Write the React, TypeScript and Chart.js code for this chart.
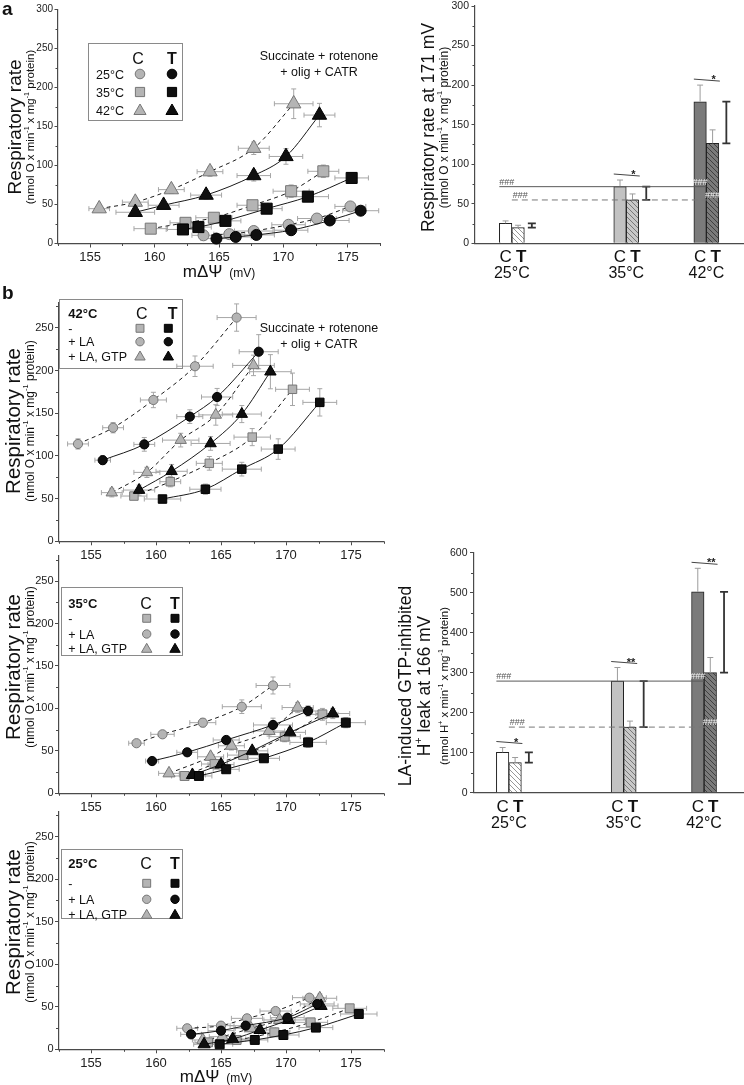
import React, { useEffect, useRef } from 'react';
import { Chart, registerables } from 'chart.js';

Chart.register(...registerables);

const FONT = '"Liberation Sans", Arial, Helvetica, sans-serif';
const PAGE_W = 744;
const PAGE_H = 1085;
const AXIS = '#4a4a4a';
const GRAY = '#b4b4b4';
const GRAY_EDGE = '#767676';
const BLACK = '#0f0f0f';
const INK = '#111111';

// ---------- panel a (left): respiratory rate vs mΔΨ ----------
const a25C_x = [163.8, 165.8, 167.7, 170.4, 172.6, 175.2];
const a25C_y = [10.5, 12, 16, 24, 32, 47.5];
const a25C_ex = [0.9, 1.2, 1.5, 1.3, 1.5, 1.2];
const a25C_ey = [3, 3, 3, 3, 4, 4];
const a25T_x = [164.8, 166.3, 167.9, 170.6, 173.6, 176.0];
const a25T_y = [6.3, 8.4, 11, 17, 29.5, 42];
const a25T_ex = [1.2, 1.2, 1.4, 1.3, 1.5, 1.4];
const a25T_ey = [2, 2, 2, 3, 3, 4];
const a35C_x = [159.7, 162.4, 164.6, 167.6, 170.6, 173.1];
const a35C_y = [19, 26.5, 33, 49, 67, 92.5];
const a35C_ex = [1.3, 1.2, 1.4, 1.2, 1.4, 1.2];
const a35C_ey = [3, 3, 4, 5, 8, 8];
const a35T_x = [162.2, 163.4, 165.5, 168.7, 171.9, 175.3];
const a35T_y = [18, 21, 29, 44.6, 60, 84];
const a35T_ex = [1.3, 1.0, 1.2, 1.2, 1.6, 1.3];
const a35T_ey = [3, 3, 3, 4, 6, 6];
const a42C_x = [155.7, 158.5, 161.3, 164.3, 167.7, 170.8];
const a42C_y = [44.6, 53, 69, 92, 122, 179];
const a42C_ex = [0.8, 1.0, 1.0, 1.0, 1.2, 1.5];
const a42C_ey = [4, 5, 5, 6, 8, 19];
const a42T_x = [158.5, 160.7, 164.0, 167.7, 170.2, 172.8];
const a42T_y = [40, 49, 62, 87, 111.5, 164.5];
const a42T_ex = [1.5, 1.2, 1.2, 1.3, 1.3, 1.2];
const a42T_ey = [4, 4, 5, 7, 10, 15];

// ---------- panel b, 42 °C ----------
const b42C_x = [158.3, 161.1, 164.1, 167.4, 170.5];
const b42C_y = [53, 69.8, 91.3, 122, 178];
const b42C_ex = [1.0, 0.8, 1.0, 1.4, 1.3];
const b42C_ey = [4, 6, 8, 10, 19];
const b42T_x = [160.5, 163.8, 166.6, 169.4, 172.6];
const b42T_y = [49.5, 61, 84.5, 108, 162.7];
const b42T_ex = [1.4, 1.2, 1.5, 1.3, 1.3];
const b42T_ey = [4, 6, 8, 12, 16];
const b42LAC_x = [154.0, 156.7, 159.8, 163.0, 166.2];
const b42LAC_y = [114, 133, 165.5, 205, 262];
const b42LAC_ex = [0.8, 0.8, 1.0, 1.4, 1.5];
const b42LAC_ey = [6, 6, 9, 12, 16];
const b42LAT_x = [155.9, 159.1, 162.6, 164.7, 167.9];
const b42LAT_y = [95, 113.5, 146, 169, 222];
const b42LAT_ex = [0.6, 0.8, 1.0, 1.2, 1.5];
const b42LAT_ey = [5, 8, 8, 10, 20];
const b42GC_x = [156.6, 159.3, 161.9, 164.6, 167.5];
const b42GC_y = [57, 80.7, 118.5, 148, 206];
const b42GC_ex = [0.8, 1.0, 1.4, 1.3, 1.6];
const b42GC_ey = [5, 6, 8, 12, 12];
const b42GT_x = [158.7, 161.2, 164.2, 166.6, 168.8];
const b42GT_y = [60, 82, 114.6, 149, 198.6];
const b42GT_ex = [1.2, 1.2, 1.5, 1.5, 1.6];
const b42GT_ey = [6, 8, 8, 10, 20];

// ---------- panel b, 35 °C ----------
const b35C_x = [162.2, 164.5, 166.7, 169.9, 172.8];
const b35C_y = [20.4, 34.5, 45, 66.7, 93];
const b35C_ex = [1.0, 1.0, 1.2, 1.2, 1.2];
const b35C_ey = [3, 4, 4, 6, 7];
const b35T_x = [163.3, 165.4, 168.3, 171.7, 174.6];
const b35T_y = [20.4, 28.3, 41.2, 60, 83.2];
const b35T_ex = [1.0, 1.0, 1.2, 1.4, 1.5];
const b35T_ey = [3, 3, 4, 6, 6];
const b35LAC_x = [158.5, 160.5, 163.6, 166.6, 169.0];
const b35LAC_y = [59, 69.5, 83.2, 102, 127];
const b35LAC_ex = [0.6, 0.9, 1.0, 1.5, 1.3];
const b35LAC_ey = [3, 4, 5, 8, 10];
const b35LAT_x = [159.7, 162.4, 165.4, 169.0, 171.7];
const b35LAT_y = [38, 48.3, 62.8, 80.5, 97];
const b35LAT_ex = [0.5, 0.8, 1.0, 1.5, 1.2];
const b35LAT_ey = [3, 4, 4, 8, 6];
const b35GC_x = [161.0, 164.2, 165.8, 168.7, 170.9];
const b35GC_y = [23.5, 43, 56, 73.4, 101];
const b35GC_ex = [0.8, 1.0, 1.0, 1.2, 1.2];
const b35GC_ey = [3, 4, 5, 6, 6];
const b35GT_x = [162.8, 165.0, 167.4, 170.3, 173.6];
const b35GT_y = [21.6, 34, 50, 71.8, 94];
const b35GT_ex = [1.0, 1.0, 1.2, 1.2, 1.3];
const b35GT_ey = [3, 3, 4, 5, 6];

// ---------- panel b, 25 °C ----------
const b25C_x = [164.0, 166.2, 169.1, 171.9, 174.9];
const b25C_y = [8.2, 11, 20, 31.7, 48.2];
const b25C_ex = [1.0, 1.0, 1.2, 1.3, 1.3];
const b25C_ey = [2, 2, 3, 3, 4];
const b25T_x = [164.9, 167.6, 169.8, 172.3, 175.6];
const b25T_y = [5.9, 11, 16.8, 25.5, 41.5];
const b25T_ex = [1.0, 1.0, 1.2, 1.3, 1.4];
const b25T_ey = [2, 2, 3, 3, 4];
const b25LAC_x = [162.4, 165.0, 167.0, 169.2, 171.8];
const b25LAC_y = [24.7, 27.8, 36.4, 45, 60.7];
const b25LAC_ex = [0.8, 1.0, 1.2, 1.2, 1.3];
const b25LAC_ey = [2, 3, 3, 4, 4];
const b25LAT_x = [162.7, 165.0, 166.9, 170.1, 172.4];
const b25LAT_y = [17.6, 21.9, 27.8, 37.2, 53.3];
const b25LAT_ex = [0.8, 1.0, 1.2, 1.3, 1.3];
const b25LAT_ey = [2, 2, 3, 3, 4];
const b25GC_x = [163.6, 165.1, 167.3, 169.5, 172.6];
const b25GC_y = [11, 14.9, 24.7, 34.5, 60];
const b25GC_ex = [0.8, 1.0, 1.2, 1.2, 1.3];
const b25GC_ey = [2, 2, 3, 3, 5];
const b25GT_x = [163.7, 165.9, 168.0, 170.2, 172.7];
const b25GT_y = [5.9, 12.1, 22.7, 34.5, 51];
const b25GT_ex = [0.8, 1.0, 1.2, 1.3, 1.3];
const b25GT_ey = [2, 2, 3, 3, 4];

// ---------- bar charts ----------
const barTemps = [25, 35, 42];
const barTempLabels = ['25°C', '35°C', '42°C'];
const aBarC = [25.3, 71.6, 179];
const aBarCErr = [3, 8.4, 21];
const aBarT = [19.8, 54.8, 126.4];
const aBarTErr = [3, 7.6, 17];
const aBarSig = ['', '*', '*'];
const bBarC = [101, 279, 502];
const bBarCErr = [12, 34, 59];
const bBarT = [75, 164, 300];
const bBarTErr = [13, 15, 38];
const bBarSig = ['*', '**', '**'];

// ---------- ticks & labels ----------
const xTicks = [155, 160, 165, 170, 175];
const aYTicks = [0, 50, 100, 150, 200, 250, 300];
const bYTicks = [0, 50, 100, 150, 200, 250];
const bBarYTicks = [0, 100, 200, 300, 400, 500, 600];
const aLegendLabels = ['25°C', '35°C', '42°C'];
const bLegendLabels = ['-', '+ LA', '+ LA, GTP'];

type Shape = 'circle' | 'rect' | 'triangle';
type Series = { x: number[]; y: number[]; ex: number[]; ey: number[]; shape: Shape; grp: 'C' | 'T' };
type Rect = { l: number; t: number; r: number; b: number };
type Seg = { t: string; size: number; bold?: boolean; sup?: boolean };

const ser = (x: number[], y: number[], ex: number[], ey: number[], shape: Shape, grp: 'C' | 'T'): Series => ({ x, y, ex, ey, shape, grp });

const seriesA: Series[] = [
  ser(a25T_x, a25T_y, a25T_ex, a25T_ey, 'circle', 'T'),
  ser(a35T_x, a35T_y, a35T_ex, a35T_ey, 'rect', 'T'),
  ser(a42T_x, a42T_y, a42T_ex, a42T_ey, 'triangle', 'T'),
  ser(a25C_x, a25C_y, a25C_ex, a25C_ey, 'circle', 'C'),
  ser(a35C_x, a35C_y, a35C_ex, a35C_ey, 'rect', 'C'),
  ser(a42C_x, a42C_y, a42C_ex, a42C_ey, 'triangle', 'C'),
];
const seriesB42: Series[] = [
  ser(b42T_x, b42T_y, b42T_ex, b42T_ey, 'rect', 'T'),
  ser(b42LAT_x, b42LAT_y, b42LAT_ex, b42LAT_ey, 'circle', 'T'),
  ser(b42GT_x, b42GT_y, b42GT_ex, b42GT_ey, 'triangle', 'T'),
  ser(b42C_x, b42C_y, b42C_ex, b42C_ey, 'rect', 'C'),
  ser(b42LAC_x, b42LAC_y, b42LAC_ex, b42LAC_ey, 'circle', 'C'),
  ser(b42GC_x, b42GC_y, b42GC_ex, b42GC_ey, 'triangle', 'C'),
];
const seriesB35: Series[] = [
  ser(b35T_x, b35T_y, b35T_ex, b35T_ey, 'rect', 'T'),
  ser(b35LAT_x, b35LAT_y, b35LAT_ex, b35LAT_ey, 'circle', 'T'),
  ser(b35GT_x, b35GT_y, b35GT_ex, b35GT_ey, 'triangle', 'T'),
  ser(b35C_x, b35C_y, b35C_ex, b35C_ey, 'rect', 'C'),
  ser(b35LAC_x, b35LAC_y, b35LAC_ex, b35LAC_ey, 'circle', 'C'),
  ser(b35GC_x, b35GC_y, b35GC_ex, b35GC_ey, 'triangle', 'C'),
];
const seriesB25: Series[] = [
  ser(b25T_x, b25T_y, b25T_ex, b25T_ey, 'rect', 'T'),
  ser(b25LAT_x, b25LAT_y, b25LAT_ex, b25LAT_ey, 'circle', 'T'),
  ser(b25GT_x, b25GT_y, b25GT_ex, b25GT_ey, 'triangle', 'T'),
  ser(b25C_x, b25C_y, b25C_ex, b25C_ey, 'rect', 'C'),
  ser(b25LAC_x, b25LAC_y, b25LAC_ex, b25LAC_ey, 'circle', 'C'),
  ser(b25GC_x, b25GC_y, b25GC_ex, b25GC_ey, 'triangle', 'C'),
];

// ---------- drawing helpers ----------
const fontStr = (size: number, bold?: boolean) => `${bold ? 'bold ' : ''}${size}px ${FONT}`;
const T = (t: string, size: number, bold = false): Seg => ({ t, size, bold });
const S = (t: string, size: number): Seg => ({ t, size, sup: true });

function drawRich(ctx: CanvasRenderingContext2D, segs: Seg[], x: number, y: number, align: 'left' | 'center' | 'right' = 'left', rot = 0, color = INK) {
  ctx.save();
  ctx.translate(x, y);
  if (rot) ctx.rotate(rot);
  ctx.fillStyle = color;
  ctx.textBaseline = 'alphabetic';
  ctx.textAlign = 'left';
  const widths = segs.map((s) => {
    ctx.font = fontStr(s.sup ? s.size * 0.62 : s.size, s.bold);
    return ctx.measureText(s.t).width;
  });
  const total = widths.reduce((a, b) => a + b, 0);
  let cx = align === 'center' ? -total / 2 : align === 'right' ? -total : 0;
  segs.forEach((s, i) => {
    ctx.font = fontStr(s.sup ? s.size * 0.62 : s.size, s.bold);
    ctx.fillText(s.t, cx, s.sup ? -s.size * 0.42 : 0);
    cx += widths[i];
  });
  ctx.restore();
}

const subO = (size: number): Seg[] => [T('(nmol O x min', size), S('-1', size), T(' x mg', size), S('-1', size), T(' protein)', size)];
const subH = (size: number): Seg[] => [T('(nmol H', size), S('+', size), T(' x min', size), S('-1', size), T(' x mg', size), S('-1', size), T(' protein)', size)];

function drawMarker(ctx: CanvasRenderingContext2D, shape: Shape, x: number, y: number, r: number, grp: 'C' | 'T') {
  ctx.save();
  ctx.fillStyle = grp === 'C' ? GRAY : BLACK;
  ctx.strokeStyle = grp === 'C' ? GRAY_EDGE : '#000';
  ctx.lineWidth = 1;
  ctx.beginPath();
  if (shape === 'circle') ctx.arc(x, y, r, 0, Math.PI * 2);
  else if (shape === 'rect') {
    const s = r * Math.SQRT1_2;
    ctx.rect(x - s, y - s, 2 * s, 2 * s);
  } else {
    for (let k = 0; k < 3; k++) {
      const a = (k * 2 * Math.PI) / 3;
      const px = x + Math.sin(a) * r;
      const py = y - Math.cos(a) * r;
      if (k) ctx.lineTo(px, py);
      else ctx.moveTo(px, py);
    }
    ctx.closePath();
  }
  ctx.fill();
  ctx.stroke();
  ctx.restore();
}

function halfSteps(ticks: number[], min: number, max: number) {
  const step = ticks[1] - ticks[0];
  const out: number[] = [];
  for (let v = ticks[0] - step / 2; v <= max + 1e-9; v += step) if (v >= min - 1e-9) out.push(v);
  return out;
}

function minorTicks(c: any, xMinor: number[], yMinor: number[]) {
  const ctx = c.ctx as CanvasRenderingContext2D;
  const a = c.chartArea;
  ctx.save();
  ctx.strokeStyle = AXIS;
  ctx.lineWidth = 1;
  ctx.beginPath();
  xMinor.forEach((v) => {
    const p = Math.round(c.scales.x.getPixelForValue(v)) + 0.5;
    ctx.moveTo(p, a.bottom);
    ctx.lineTo(p, a.bottom + 2.5);
  });
  yMinor.forEach((v) => {
    const p = Math.round(c.scales.y.getPixelForValue(v)) + 0.5;
    ctx.moveTo(a.left, p);
    ctx.lineTo(a.left - 2.5, p);
  });
  ctx.stroke();
  ctx.restore();
}

function strokeRect(ctx: CanvasRenderingContext2D, r: Rect) {
  ctx.save();
  ctx.strokeStyle = '#8a8a8a';
  ctx.lineWidth = 1;
  ctx.strokeRect(Math.round(r.l) + 0.5, Math.round(r.t) + 0.5, Math.round(r.r - r.l), Math.round(r.b - r.t));
  ctx.restore();
}

const errorBarPlugin = {
  id: 'errbars',
  beforeDatasetsDraw(c: any) {
    const ctx = c.ctx as CanvasRenderingContext2D;
    const xs = c.scales.x;
    const ys = c.scales.y;
    ctx.save();
    ctx.strokeStyle = '#a6a6a6';
    ctx.lineWidth = 1;
    c.data.datasets.forEach((ds: any) => {
      if (!ds.errX) return;
      ds.data.forEach((pt: any, i: number) => {
        const px = xs.getPixelForValue(pt.x);
        const py = ys.getPixelForValue(pt.y);
        const x1 = xs.getPixelForValue(pt.x - ds.errX[i]);
        const x2 = xs.getPixelForValue(pt.x + ds.errX[i]);
        const y1 = ys.getPixelForValue(pt.y - ds.errY[i]);
        const y2 = ys.getPixelForValue(pt.y + ds.errY[i]);
        ctx.beginPath();
        ctx.moveTo(x1, py); ctx.lineTo(x2, py);
        ctx.moveTo(x1, py - 2.5); ctx.lineTo(x1, py + 2.5);
        ctx.moveTo(x2, py - 2.5); ctx.lineTo(x2, py + 2.5);
        ctx.moveTo(px, y1); ctx.lineTo(px, y2);
        ctx.moveTo(px - 2.5, y1); ctx.lineTo(px + 2.5, y1);
        ctx.moveTo(px - 2.5, y2); ctx.lineTo(px + 2.5, y2);
        ctx.stroke();
      });
    });
    ctx.restore();
  },
};

function yAxis(min: number, max: number, ticks: number[], width: number, fontSize: number, pad: number) {
  return {
    type: 'linear',
    min,
    max,
    afterBuildTicks: (s: any) => { s.ticks = ticks.map((v) => ({ value: v })); },
    afterFit: (s: any) => { s.width = width; s.paddingTop = 0; s.paddingBottom = 0; },
    ticks: { font: { family: FONT, size: fontSize }, color: '#222', padding: pad },
    grid: { display: true, drawOnChartArea: false, drawTicks: true, tickLength: 3.5, color: AXIS, lineWidth: 1 },
    border: { display: true, color: AXIS, width: 1.2 },
  };
}

function xAxisLin(min: number, max: number, ticks: number[], height: number) {
  return {
    type: 'linear',
    min,
    max,
    afterBuildTicks: (s: any) => { s.ticks = ticks.map((v) => ({ value: v })); },
    afterFit: (s: any) => { s.height = height; s.paddingLeft = 0; s.paddingRight = 0; },
    ticks: { font: { family: FONT, size: 13 }, color: '#222', padding: 2, maxRotation: 0, autoSkip: false },
    grid: { display: true, drawOnChartArea: false, drawTicks: true, tickLength: 4, color: AXIS, lineWidth: 1 },
    border: { display: true, color: AXIS, width: 1.2 },
  };
}

const X_MIN = 152.5;
const X_MAX = 177.5;

function scatterConfig(o: { series: Series[]; rect: Rect; ymax: number; yTicks: number[]; yFont: number; yPad: number; radii: Record<Shape, number>; decor: (c: any) => void }) {
  const Wy = 45;
  const Hx = 22;
  return {
    type: 'scatter',
    data: {
      datasets: o.series.map((s) => ({
        data: s.x.map((v, i) => ({ x: v, y: s.y[i] })),
        showLine: true,
        cubicInterpolationMode: 'monotone',
        borderColor: '#1a1a1a',
        borderWidth: 1,
        borderDash: s.grp === 'C' ? [4, 3.5] : [],
        pointStyle: s.shape,
        pointRadius: o.radii[s.shape],
        pointBorderWidth: 1,
        pointBackgroundColor: s.grp === 'C' ? GRAY : BLACK,
        pointBorderColor: s.grp === 'C' ? GRAY_EDGE : '#000',
        clip: false,
        errX: s.ex,
        errY: s.ey,
      })),
    },
    options: {
      responsive: false,
      animation: false,
      devicePixelRatio: 1,
      events: [],
      layout: { padding: { left: o.rect.l - Wy, top: o.rect.t, right: PAGE_W - o.rect.r, bottom: PAGE_H - o.rect.b - Hx } },
      plugins: { legend: { display: false }, tooltip: { enabled: false } },
      scales: {
        x: xAxisLin(X_MIN, X_MAX, xTicks, Hx),
        y: yAxis(0, o.ymax, o.yTicks, Wy, o.yFont, o.yPad),
      },
    },
    plugins: [errorBarPlugin, { id: 'decor', afterDraw: (c: any) => o.decor(c) }],
  };
}

// ---------- scatter decorations ----------
function decorA(c: any) {
  const ctx = c.ctx as CanvasRenderingContext2D;
  minorTicks(c, halfSteps(xTicks, X_MIN, X_MAX), halfSteps(aYTicks, 0, 300));
  drawRich(ctx, [T('a', 19, true)], 2, 15);
  drawRich(ctx, [T('Respiratory rate', 19)], 21, 127, 'center', -Math.PI / 2);
  drawRich(ctx, subO(11.5), 33.5, 127, 'center', -Math.PI / 2);
  drawRich(ctx, [T('mΔΨ', 17), T('  (mV)', 12)], 219, 277, 'center');
  drawRich(ctx, [T('Succinate + rotenone', 12.5)], 319, 59.5, 'center');
  drawRich(ctx, [T('+ olig + CATR', 12.5)], 319, 75.5, 'center');
  strokeRect(ctx, { l: 88, t: 43, r: 182, b: 120 });
  drawRich(ctx, [T('C', 16)], 138, 64, 'center');
  drawRich(ctx, [T('T', 16, true)], 172, 64, 'center');
  const shapes: Shape[] = ['circle', 'rect', 'triangle'];
  const rowY = [74, 92, 110];
  const rad: Record<Shape, number> = { circle: 4.8, rect: 6.5, triangle: 7 };
  aLegendLabels.forEach((lab, i) => {
    drawRich(ctx, [T(lab, 12.5)], 96, rowY[i] + 4.5);
    drawMarker(ctx, shapes[i], 140, rowY[i] + (shapes[i] === 'triangle' ? 1 : 0), rad[shapes[i]], 'C');
    drawMarker(ctx, shapes[i], 172, rowY[i] + (shapes[i] === 'triangle' ? 1 : 0), rad[shapes[i]], 'T');
  });
}

function decorB(o: { letter?: boolean; temp: string; titleY: number; box: Rect; headY: number; rowsY: number[]; mcX: number; mtX: number; hcX: number; htX: number; succ?: number[]; xTitle?: boolean }) {
  return (c: any) => {
    const ctx = c.ctx as CanvasRenderingContext2D;
    minorTicks(c, halfSteps(xTicks, X_MIN, X_MAX), halfSteps(bYTicks, 0, 280));
    if (o.letter) drawRich(ctx, [T('b', 19, true)], 2, 299);
    drawRich(ctx, [T('Respiratory rate', 20.5)], 19.5, o.titleY, 'center', -Math.PI / 2);
    drawRich(ctx, subO(12), 33.5, o.titleY, 'center', -Math.PI / 2);
    if (o.xTitle) drawRich(ctx, [T('mΔΨ', 17), T('  (mV)', 12)], 216, 1082, 'center');
    if (o.succ) {
      drawRich(ctx, [T('Succinate + rotenone', 12.5)], 319, o.succ[0], 'center');
      drawRich(ctx, [T('+ olig + CATR', 12.5)], 319, o.succ[1], 'center');
    }
    strokeRect(ctx, o.box);
    drawRich(ctx, [T(o.temp, 13, true)], 68.3, o.headY + 4.7);
    drawRich(ctx, [T('C', 16)], o.hcX, o.headY + 5.8, 'center');
    drawRich(ctx, [T('T', 16, true)], o.htX, o.headY + 5.8, 'center');
    const shapes: Shape[] = ['rect', 'circle', 'triangle'];
    const rad: Record<Shape, number> = { circle: 4.2, rect: 5.6, triangle: 6 };
    bLegendLabels.forEach((lab, i) => {
      drawRich(ctx, [T(lab, 12.5)], 68.3, o.rowsY[i] + 4.5);
      const dy = shapes[i] === 'triangle' ? 1 : 0;
      drawMarker(ctx, shapes[i], o.mcX, o.rowsY[i] + dy, rad[shapes[i]], 'C');
      drawMarker(ctx, shapes[i], o.mtX, o.rowsY[i] + dy, rad[shapes[i]], 'T');
    });
  };
}

// ---------- bar charts ----------
function hatch(bg: string, fg: string) {
  const s = 5;
  const t = document.createElement('canvas');
  t.width = s;
  t.height = s;
  const g = t.getContext('2d')!;
  g.fillStyle = bg;
  g.fillRect(0, 0, s, s);
  g.strokeStyle = fg;
  g.lineWidth = 0.9;
  g.beginPath();
  g.moveTo(-1, -1); g.lineTo(s + 1, s + 1);
  g.moveTo(s - 1, -1); g.lineTo(s + 1, 1);
  g.moveTo(-1, s - 1); g.lineTo(1, s + 1);
  g.stroke();
  return g.createPattern(t, 'repeat');
}

const barFillC = ['#ffffff', '#c2c2c2', '#7b7b7b'];

function barConfig(o: { c: number[]; cErr: number[]; t: number[]; tErr: number[]; sig: string[]; rect: Rect; xmin: number; xmax: number; ymax: number; yTicks: number[]; titles: (ctx: CanvasRenderingContext2D) => void }) {
  const Wy = 45;
  const fillT = [hatch('#ffffff', '#8c8c8c'), hatch('#c8c8c8', '#6e6e6e'), hatch('#7b7b7b', '#3a3a3a')];
  const decor = (c: any) => {
    const ctx = c.ctx as CanvasRenderingContext2D;
    const xs = c.scales.x;
    const ys = c.scales.y;
    const area = c.chartArea;
    const py = (v: number) => ys.getPixelForValue(v);
    const mc = c.getDatasetMeta(0).data as any[];
    const mt = c.getDatasetMeta(1).data as any[];
    const left = (e: any) => e.x - e.width / 2;
    const right = (e: any) => e.x + e.width / 2;
    minorTicks(c, [], halfSteps(o.yTicks, 0, o.ymax));
    ctx.save();
    // error bars (upper)
    ctx.strokeStyle = '#9c9c9c';
    ctx.lineWidth = 1;
    const errSets: [any[], number[], number[]][] = [[mc, o.c, o.cErr], [mt, o.t, o.tErr]];
    errSets.forEach(([m, v, e]) => {
      m.forEach((el, i) => {
        const y0 = py(v[i]);
        const y1 = py(v[i] + e[i]);
        ctx.beginPath();
        ctx.moveTo(el.x, y0); ctx.lineTo(el.x, y1);
        ctx.moveTo(el.x - 3, y1); ctx.lineTo(el.x + 3, y1);
        ctx.stroke();
      });
    });
    // C-T difference brackets
    ctx.strokeStyle = '#333';
    ctx.lineWidth = 1.8;
    barTemps.forEach((t, i) => {
      const x = xs.getPixelForValue(t) + 20;
      const y1 = py(o.c[i]);
      const y2 = py(o.t[i]);
      ctx.beginPath();
      ctx.moveTo(x, y1); ctx.lineTo(x, y2);
      ctx.moveTo(x - 4, y1); ctx.lineTo(x + 4, y1);
      ctx.moveTo(x - 4, y2); ctx.lineTo(x + 4, y2);
      ctx.stroke();
    });
    // reference lines at 35 °C values
    const ySolid = py(o.c[1]);
    const yDash = py(o.t[1]);
    ctx.lineWidth = 1;
    ctx.strokeStyle = '#5a5a5a';
    ctx.beginPath();
    ctx.moveTo(left(mc[0]), ySolid); ctx.lineTo(right(mc[2]), ySolid);
    ctx.stroke();
    ctx.strokeStyle = '#777';
    ctx.setLineDash([6, 4]);
    ctx.beginPath();
    ctx.moveTo(left(mt[0]), yDash); ctx.lineTo(right(mt[2]), yDash);
    ctx.stroke();
    ctx.setLineDash([]);
    drawRich(ctx, [T('###', 9)], left(mc[0]), ySolid - 2, 'left', 0, '#555');
    drawRich(ctx, [T('###', 9)], left(mt[0]) + 1, yDash - 2, 'left', 0, '#555');
    drawRich(ctx, [T('###', 9)], mc[2].x, ySolid - 2, 'center', 0, '#f2f2f2');
    drawRich(ctx, [T('###', 9)], mt[2].x, yDash - 2, 'center', 0, '#f2f2f2');
    // significance
    ctx.strokeStyle = '#444';
    ctx.lineWidth = 1;
    o.sig.forEach((s, i) => {
      if (!s) return;
      const ly = py(o.c[i] + o.cErr[i]) - 5;
      ctx.beginPath();
      ctx.moveTo(left(mc[i]), ly - 1);
      ctx.lineTo(right(mt[i]) + 1, ly + 1);
      ctx.stroke();
      drawRich(ctx, [T(s, 11, true)], mt[i].x + 1, ly + 3, 'center', 0, '#222');
    });
    ctx.restore();
    // category labels
    barTemps.forEach((t, i) => {
      drawRich(ctx, [T('C', 17)], mc[i].x, area.bottom + 19, 'center');
      drawRich(ctx, [T('T', 17, true)], mt[i].x + 3, area.bottom + 19, 'center');
      drawRich(ctx, [T(barTempLabels[i], 16)], xs.getPixelForValue(t), area.bottom + 35, 'center');
    });
    o.titles(ctx);
  };
  return {
    type: 'bar',
    data: {
      datasets: [
        { label: 'C', data: barTemps.map((t, i) => ({ x: t, y: o.c[i] })), backgroundColor: barFillC, borderColor: '#222', borderWidth: 1, barThickness: 12.5 },
        { label: 'T', data: barTemps.map((t, i) => ({ x: t, y: o.t[i] })), backgroundColor: fillT, borderColor: '#222', borderWidth: 1, barThickness: 12.5 },
      ],
    },
    options: {
      responsive: false,
      animation: false,
      devicePixelRatio: 1,
      events: [],
      layout: { padding: { left: o.rect.l - Wy, top: o.rect.t, right: PAGE_W - o.rect.r, bottom: PAGE_H - o.rect.b } },
      plugins: { legend: { display: false }, tooltip: { enabled: false } },
      scales: {
        x: {
          type: 'linear',
          min: o.xmin,
          max: o.xmax,
          offset: false,
          ticks: { display: false },
          grid: { display: false },
          border: { display: true, color: AXIS, width: 1.2 },
          afterFit: (s: any) => { s.height = 0; s.paddingLeft = 0; s.paddingRight = 0; },
        },
        y: yAxis(0, o.ymax, o.yTicks, Wy, 10.5, 2.5),
      },
    },
    plugins: [{ id: 'barDecor', afterDraw: decor }],
  };
}

// ---------- chart makers ----------
const makeAScatter = () =>
  scatterConfig({
    series: seriesA,
    rect: { l: 58, t: 6.5, r: 380, b: 243.5 },
    ymax: 300,
    yTicks: aYTicks,
    yFont: 10,
    yPad: 1.5,
    radii: { circle: 5.5, rect: 7.8, triangle: 8.3 },
    decor: decorA,
  });

const makeB42 = () =>
  scatterConfig({
    series: seriesB42,
    rect: { l: 58.5, t: 302.2, r: 383.5, b: 541.3 },
    ymax: 280,
    yTicks: bYTicks,
    yFont: 11,
    yPad: 1.5,
    radii: { circle: 4.6, rect: 6, triangle: 6.6 },
    decor: decorB({ letter: true, temp: '42°C', titleY: 421, box: { l: 59, t: 299, r: 182, b: 368 }, headY: 313.3, rowsY: [328.3, 341.7, 356], mcX: 140, mtX: 168.3, hcX: 141.7, htX: 172.7, succ: [331.8, 347.5] }),
  });

const makeB35 = () =>
  scatterConfig({
    series: seriesB35,
    rect: { l: 58.5, t: 555.6, r: 383.5, b: 793.3 },
    ymax: 280,
    yTicks: bYTicks,
    yFont: 11,
    yPad: 1.5,
    radii: { circle: 4.6, rect: 6.3, triangle: 7 },
    decor: decorB({ temp: '35°C', titleY: 667, box: { l: 61, t: 587, r: 182, b: 655 }, headY: 603.3, rowsY: [618.3, 634, 648.3], mcX: 146.7, mtX: 175, hcX: 146, htX: 175 }),
  });

const makeB25 = () =>
  scatterConfig({
    series: seriesB25,
    rect: { l: 58.5, t: 811.2, r: 383.5, b: 1049.3 },
    ymax: 280,
    yTicks: bYTicks,
    yFont: 11,
    yPad: 1.5,
    radii: { circle: 4.6, rect: 6.3, triangle: 7 },
    decor: decorB({ temp: '25°C', titleY: 922, box: { l: 61, t: 849, r: 182, b: 918 }, headY: 863.3, rowsY: [883.3, 899.3, 914.3], mcX: 146.7, mtX: 175, hcX: 146, htX: 175, xTitle: true }),
  });

const makeABar = () =>
  barConfig({
    c: aBarC, cErr: aBarCErr, t: aBarT, tErr: aBarTErr, sig: aBarSig,
    rect: { l: 475, t: 6, r: 744, b: 243.3 },
    xmin: 21.78, xmax: 45.29, ymax: 300, yTicks: aYTicks,
    titles: (ctx) => {
      drawRich(ctx, [T('Respiratory rate at 171 mV', 17.5)], 433.5, 127.5, 'center', -Math.PI / 2);
      drawRich(ctx, subO(12), 447.5, 127.5, 'center', -Math.PI / 2);
    },
  });

const makeBBar = () =>
  barConfig({
    c: bBarC, cErr: bBarCErr, t: bBarT, tErr: bBarTErr, sig: bBarSig,
    rect: { l: 473.5, t: 552.7, r: 744, b: 792.7 },
    xmin: 21.92, xmax: 45.48, ymax: 600, yTicks: bBarYTicks,
    titles: (ctx) => {
      drawRich(ctx, [T('LA-induced GTP-inhibited', 17.5)], 411, 686, 'center', -Math.PI / 2);
      drawRich(ctx, [T('H', 17.5), S('+', 17.5), T(' leak at 166 mV', 17.5)], 429.5, 686, 'center', -Math.PI / 2);
      drawRich(ctx, subH(11.5), 447.5, 686, 'center', -Math.PI / 2);
    },
  });

function ChartLayer({ make }: { make: () => any }) {
  const ref = useRef<HTMLCanvasElement>(null);
  useEffect(() => {
    const chart = new Chart(ref.current as HTMLCanvasElement, make());
    return () => chart.destroy();
  }, []);
  return (
    <canvas
      ref={ref}
      width={PAGE_W}
      height={PAGE_H}
      style={{ position: 'absolute', left: 0, top: 0, width: PAGE_W, height: PAGE_H }}
    />
  );
}

export default function App() {
  return (
    <div style={{ position: 'absolute', left: 0, top: 0, width: PAGE_W, height: PAGE_H, background: '#fff', overflow: 'hidden' }}>
      <ChartLayer make={makeAScatter} />
      <ChartLayer make={makeABar} />
      <ChartLayer make={makeB42} />
      <ChartLayer make={makeB35} />
      <ChartLayer make={makeB25} />
      <ChartLayer make={makeBBar} />
    </div>
  );
}
